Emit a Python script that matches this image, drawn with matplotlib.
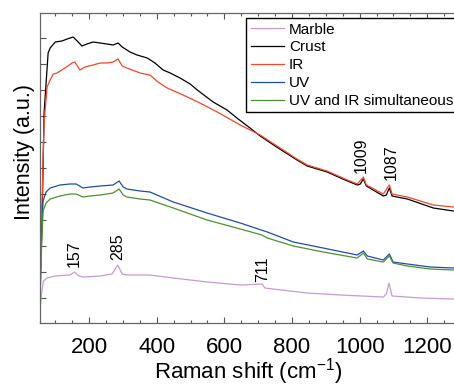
import numpy as np
import matplotlib
matplotlib.use("Agg")
import matplotlib.pyplot as plt
from matplotlib.ticker import MultipleLocator, FixedLocator

plt.rcParams['font.family'] = ['Liberation Sans', 'DejaVu Sans']
plt.rcParams['mathtext.default'] = 'regular'

# Raman shift (cm-1) and intensity (a.u.)
crust_x = [55, 61, 67, 79, 85, 100, 120, 135, 153, 165, 179, 194, 212, 233, 253, 271, 286,
           298, 321, 342, 372, 395, 419, 440, 469, 499, 520, 567, 608, 641, 676, 706,
           750, 815, 845, 904, 957, 993, 1002, 1011, 1020, 1070, 1079, 1088, 1096,
           1141, 1218, 1277]
crust_y = [40, 100, 210, 270, 275, 281, 282, 284, 286, 282, 277, 279, 281, 280, 279, 278, 280,
           276, 271, 268, 265, 260, 253, 250, 245, 239, 233, 221, 213, 204, 195, 187,
           177, 163, 157, 151, 143, 138, 139, 144, 137, 127, 128, 135, 127,
           124, 115, 112]

ir_x = [55, 61, 67, 76, 85, 94, 105, 129, 150, 158, 173, 188, 212, 233, 253, 271, 286,
        298, 312, 351, 380, 404, 431, 478, 528, 579, 647, 706, 765, 815, 845, 904,
        957, 993, 1011, 1020, 1070, 1088, 1096, 1141, 1218, 1277]
ir_y = [70, 120, 200, 236, 243, 249, 250, 255, 260, 261, 253, 256, 258, 260, 260, 261, 264,
        257, 255, 250, 248, 241, 235, 228, 220, 211, 198, 188, 175, 164, 158, 152,
        144, 139, 146, 138, 129, 138, 129, 126, 118, 116]

uv_x = [55, 60, 64, 73, 85, 114, 144, 162, 182, 203, 233, 271, 289, 301, 312, 351, 380,
        449, 549, 647, 727, 804, 892, 993, 1011, 1023, 1070, 1088, 1099, 1141, 1209, 1277]
uv_y = [25, 90, 122, 131, 135, 138, 139, 139, 135, 136, 137, 138, 142, 136, 134, 132, 131,
        121, 110, 100, 91, 81, 75, 68, 72, 67, 63, 69, 61, 59, 56, 55]

both_x = [55, 60, 64, 73, 85, 114, 144, 162, 182, 203, 233, 271, 289, 301, 312, 351, 380,
          449, 549, 647, 711, 727, 804, 892, 993, 1011, 1023, 1070, 1088, 1099, 1141,
          1209, 1277]
both_y = [22, 80, 112, 120, 124, 127, 129, 129, 126, 127, 128, 130, 134, 128, 126, 124, 123,
          115, 103, 94, 88, 85, 77, 71, 65, 70, 64, 61, 67, 60, 57, 54, 53]

marble_x = [55, 60, 65, 76, 100, 144, 157, 170, 182, 233, 268, 285, 298, 312, 380, 449,
            549, 647, 711, 720, 744, 845, 943, 1070, 1079, 1087, 1096, 1180, 1277]
marble_y = [14, 30, 42, 45, 47, 48, 51, 47, 46, 47, 49, 58, 49, 48, 48, 45,
            41, 38, 39, 35, 34, 30, 28, 26, 29, 40, 27, 25, 24]

peak_labels = ['157', '285', '711', '1009', '1087']
peak_x = [157, 286, 712, 1005, 1094]
peak_y = [56, 63, 41, 150, 143]

names = ['Marble', 'Crust', 'IR', 'UV', 'UV and IR simultaneous']
colors = ['#c99ad3', '#000000', '#f2472a', '#1f4ea6', '#4c9131']
series = [(marble_x, marble_y), (crust_x, crust_y), (ir_x, ir_y),
          (uv_x, uv_y), (both_x, both_y)]

fig = plt.figure(figsize=(4.54, 3.86), dpi=100)
ax = fig.add_axes([40 / 454, 1 - 323 / 386, 416 / 454, 310 / 386])

for (xs, ys), name, c in zip(series, names, colors):
    ax.plot(xs, ys, color=c, lw=0.9, label=name)

for lab, px, py in zip(peak_labels, peak_x, peak_y):
    ax.text(px, py, lab, rotation=90, ha='center', va='bottom', fontsize=11.5)

ax.set_xlim(55, 1285)
ax.set_ylim(0, 310)
ax.xaxis.set_major_locator(MultipleLocator(200))
ax.xaxis.set_minor_locator(MultipleLocator(50))
ax.yaxis.set_major_locator(FixedLocator(np.arange(25, 300, 26)))
ax.set_yticklabels([])
ax.tick_params(axis='x', which='major', direction='in', top=True, length=4, width=0.8,
               color='#555555', labelsize=16, pad=10)
ax.tick_params(axis='x', which='minor', direction='in', top=True, length=2, width=0.8,
               color='#555555')
ax.tick_params(axis='y', direction='in', length=4, width=0.8, color='#555555')
for s in ax.spines.values():
    s.set_color('#666666')
    s.set_linewidth(0.9)

ax.set_xlabel('Raman shift (cm$^{-1}$)', fontsize=16, labelpad=-1)
ax.set_ylabel('Intensity (a.u.)', fontsize=15.5)
ax.yaxis.set_label_coords(-0.012, 0.55)

leg = ax.legend(loc='upper left', bbox_to_anchor=((246 - 40) / 416, (323 - 18) / 310),
                fontsize=11, frameon=True, fancybox=False, borderaxespad=0,
                handlelength=2.2, handletextpad=0.3, labelspacing=0.25, borderpad=0.3)
leg.get_frame().set_edgecolor('black')
leg.get_frame().set_linewidth(1.0)
leg.get_frame().set_alpha(1)

fig.savefig('out.png', dpi=100)
